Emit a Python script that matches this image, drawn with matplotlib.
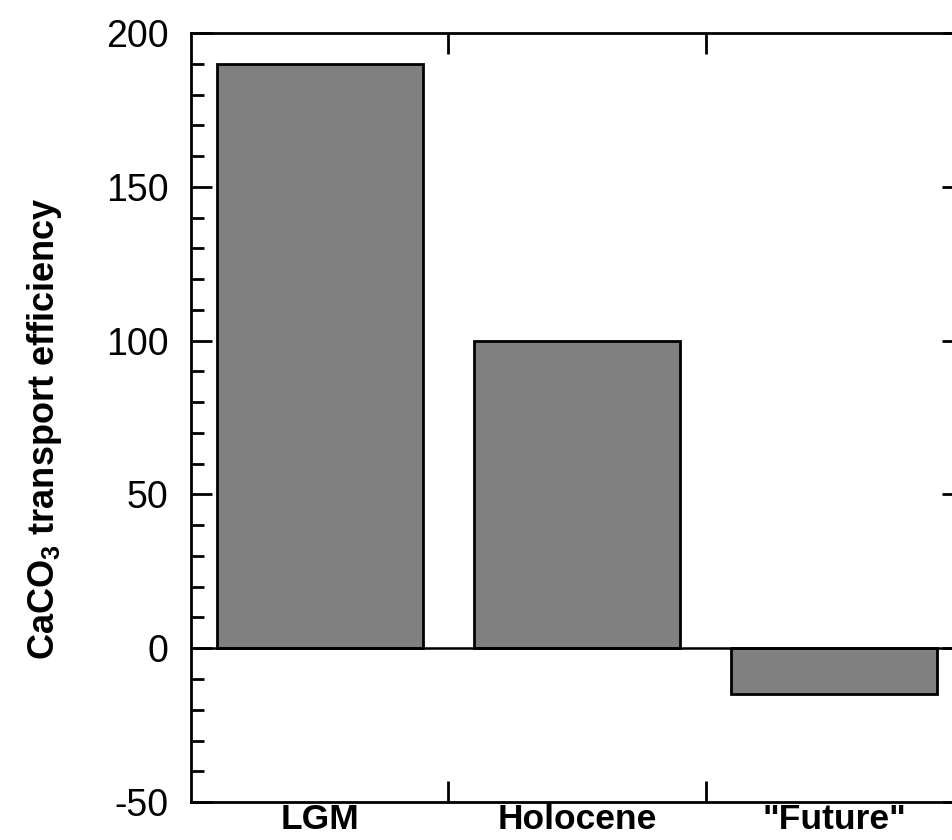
import matplotlib
matplotlib.use("Agg")
import matplotlib.pyplot as plt
from matplotlib.ticker import MultipleLocator, FixedLocator

categories = ["LGM", "Holocene", '"Future"']
efficiency = [190, 100, -15]

plt.rcParams["font.family"] = ["Liberation Sans", "DejaVu Sans"]
plt.rcParams["mathtext.fontset"] = "custom"
plt.rcParams["mathtext.bf"] = "Liberation Sans:bold"
plt.rcParams["mathtext.rm"] = "Liberation Sans"
plt.rcParams["axes.unicode_minus"] = False

fig = plt.figure(figsize=(9.52, 8.4), dpi=100)
ax = fig.add_axes([0.2006, 0.0452, 0.8110, 0.9155])

x = [i + 0.5 for i in range(len(categories))]
ax.bar(x, efficiency, width=0.8, color="#808080", edgecolor="black",
       linewidth=2, zorder=2)
ax.axhline(0, color="black", linewidth=1.8, zorder=3)

ax.set_xlim(0, 3)
ax.set_ylim(-50, 200)

ax.yaxis.set_major_locator(MultipleLocator(50))
ax.yaxis.set_minor_locator(MultipleLocator(10))
ax.xaxis.set_major_locator(FixedLocator([1, 2]))
ax.xaxis.set_minor_locator(FixedLocator(x))
ax.xaxis.set_ticklabels([])
ax.xaxis.set_ticklabels(categories, minor=True)

ax.tick_params(axis="y", which="major", direction="in", length=15, width=2,
               left=True, right=True, labelsize=27, pad=16)
ax.tick_params(axis="y", which="minor", direction="in", length=9, width=2,
               left=True, right=False)
ax.tick_params(axis="x", which="major", direction="in", length=15, width=2,
               top=True, bottom=True)
ax.tick_params(axis="x", which="minor", length=0, labelsize=25.5, pad=1)
for lab in ax.get_xticklabels(minor=True):
    lab.set_fontweight("bold")

for s in ax.spines.values():
    s.set_linewidth(2)

ax.set_ylabel(r"CaCO$_\mathbf{3}$ transport efficiency", fontsize=26,
              fontweight="bold")
ax.yaxis.set_label_coords(-0.165, 0.485)

fig.savefig("out.png", dpi=100)
